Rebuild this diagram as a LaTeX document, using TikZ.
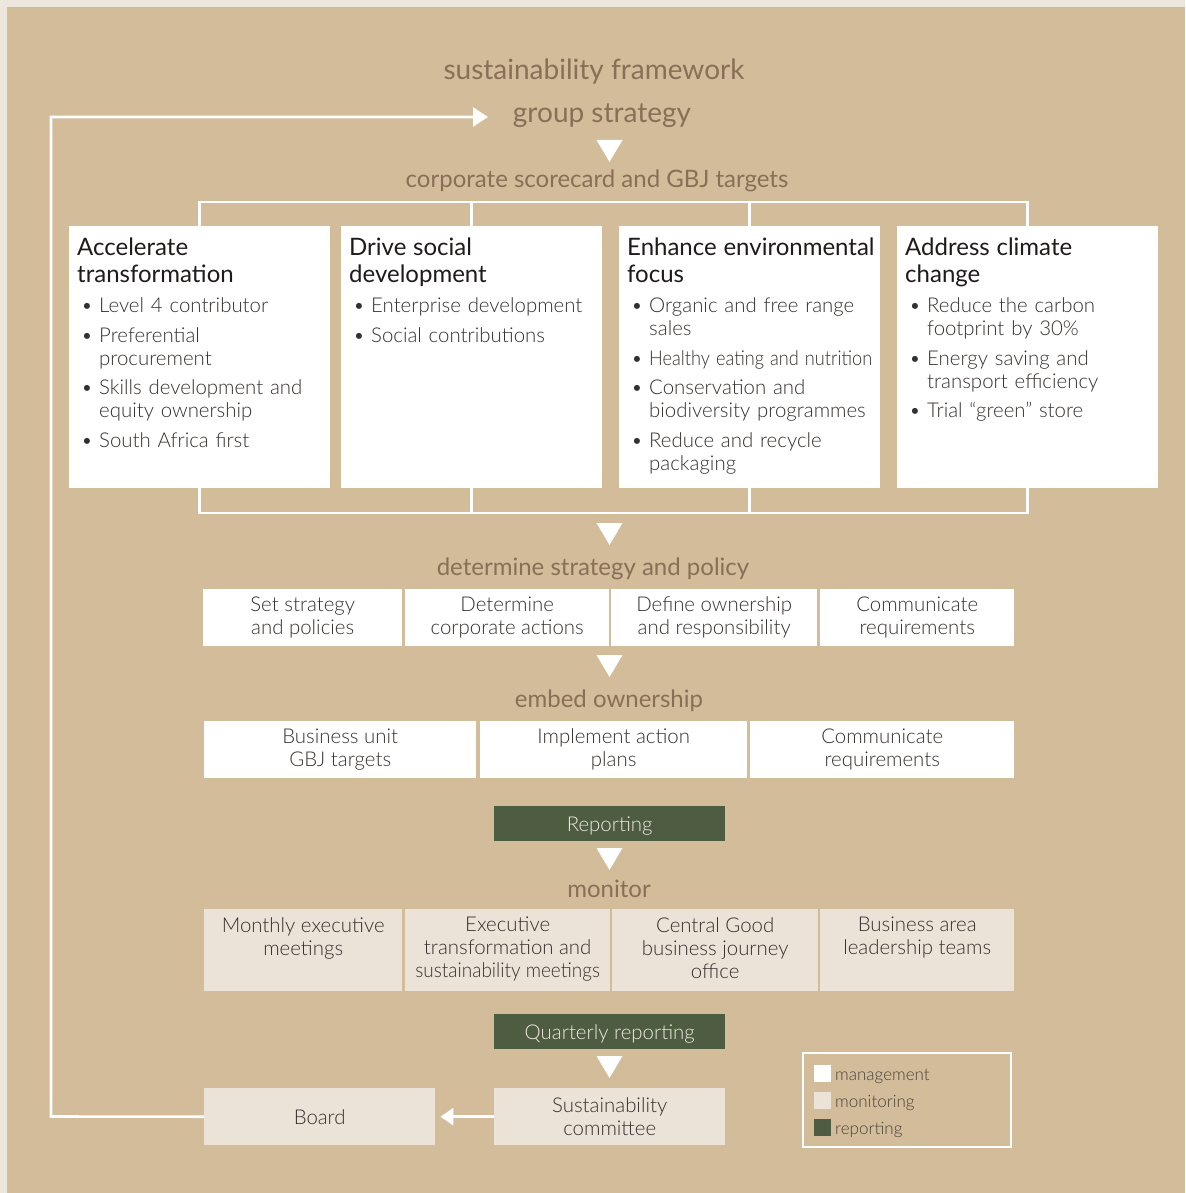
\documentclass[tikz,border=0pt]{standalone}
\usepackage{fontspec}
\setmainfont{Lato}
\IfFontExistsTF{Lato Light}{\newfontfamily\lightfont{Lato Light}}{\newfontfamily\lightfont{Lato}}
\usetikzlibrary{arrows.meta}
\hyphenpenalty=10000
\exhyphenpenalty=10000

\definecolor{paper}{HTML}{EDE6DD}
\definecolor{tan}{HTML}{D2BC9A}
\definecolor{ttl}{HTML}{8A6E57}
\definecolor{rep}{HTML}{4E5C42}
\definecolor{repink}{HTML}{EEEAE0}
\definecolor{mon}{HTML}{EBE3D8}
\definecolor{ink}{HTML}{34302D}
\definecolor{hd}{HTML}{1E1B1A}
\definecolor{legink}{HTML}{4A423D}

% heading and bullet items inside the four objective boxes
\newcommand\headline[1]{{\rmfamily\fontsize{24}{27}\selectfont\color{hd}#1\par}}
\newcommand\bitem[1]{\par\vspace{6.6pt}\hangindent=22pt\hangafter=1\noindent
  \makebox[22pt][l]{\hspace{4pt}\textbullet}#1\par}
% label set a little lower inside its bar
\newcommand\lowered[1]{\raisebox{-2.5pt}[\height][\depth]{#1}}

\tikzset{
  sect/.style={text=ttl, font=\fontsize{24}{26}\selectfont, anchor=base, inner sep=0},
  bigttl/.style={text=ttl, font=\fontsize{28}{30}\selectfont, anchor=base, inner sep=0},
  objbox/.style={fill=white, anchor=north west, inner sep=0, minimum width=261pt, minimum height=262pt},
  objtext/.style={anchor=north west, inner sep=0, text width=250pt, align=left, text=ink,
    font=\lightfont\fontsize{20.4}{23}\selectfont},
  cell/.style={anchor=north west, inner sep=0, align=center, text=ink,
    font=\lightfont\fontsize{20.4}{23}\selectfont},
  mgmt/.style={cell, fill=white, minimum height=57pt},
  moni/.style={cell, fill=mon},
  repo/.style={cell, fill=rep, text=repink, minimum width=231pt, minimum height=35pt},
  wline/.style={white, line width=2.6pt},
  pointer/.style={fill=white},
  legtext/.style={anchor=base west, inner sep=0, text=legink, font=\lightfont\fontsize{17}{19}\selectfont},
}

% downward white pointer centred on (#1,#2)
\newcommand\downmark[2]{\fill[pointer] (#1-13,#2-11) -- (#1+13,#2-11) -- (#1,#2+11) -- cycle;}

\begin{document}
\begin{tikzpicture}[x=1pt,y=-1pt]
\useasboundingbox (0,0) rectangle (1185,1193);
\fill[paper] (0,0) rectangle (1185,1193);
\fill[tan] (7,7) rectangle (1185,1193);

% titles
\node[bigttl] (title) at (594,80) {sustainability framework};
\node[bigttl] (gs) at (602,123) {group strategy};
\downmark{609.5}{151}
\node[sect] (corp) at (597,188) {corporate scorecard and GBJ targets};

% four objectives
\node[objbox] (b1) at (69,226) {};
\node[objbox] (b2) at (341,226) {};
\node[objbox] (b3) at (619,226) {};
\node[objbox] (b4) at (897,226) {};

\node[objtext] (t1) at (77,238) {\headline{Accelerate\newline transformation}
  \bitem{Level 4 contributor}
  \bitem{Preferential\newline procurement}
  \bitem{Skills development and\newline equity ownership}
  \bitem{South Africa first}};
\node[objtext] (t2) at (349,238) {\headline{Drive social\newline development}
  \bitem{Enterprise development}
  \bitem{Social contributions}};
\node[objtext] (t3) at (627,238) {\headline{Enhance environmental\newline focus}
  \bitem{Organic and free range\newline sales}
  \bitem{\scalebox{0.89}[1]{Healthy eating and nutrition}}
  \bitem{Conservation and\newline biodiversity programmes}
  \bitem{Reduce and recycle\newline packaging}};
\node[objtext] (t4) at (905,238) {\headline{Address climate\newline change}
  \bitem{Reduce the carbon\newline footprint by 30\%}
  \bitem{Energy saving and\newline transport efficiency}
  \bitem{Trial “green” store}};

% brackets joining the objectives
\coordinate (topbar) at (0,202);
\coordinate (botbar) at (0,513);
\draw[wline] (b1.north) -- (b1.north |- topbar) -- (b4.north |- topbar) -- (b4.north);
\draw[wline] (b2.north) -- (b2.north |- topbar);
\draw[wline] (b3.north) -- (b3.north |- topbar);
\draw[wline] (b1.south) -- (b1.south |- botbar) -- (b4.south |- botbar) -- (b4.south);
\draw[wline] (b2.south) -- (b2.south |- botbar);
\draw[wline] (b3.south) -- (b3.south |- botbar);

% determine strategy and policy
\downmark{609.5}{534}
\node[sect] (det) at (593,575) {determine strategy and policy};
\node[mgmt, minimum width=199pt] (d1) at (203,589) {Set strategy\\and policies};
\node[mgmt, minimum width=204pt] (d2) at (405,589) {Determine\\corporate actions};
\node[mgmt, minimum width=206pt] (d3) at (611,589) {Define ownership\\and responsibility};
\node[mgmt, minimum width=194pt] (d4) at (820,589) {Communicate\\requirements};

% embed ownership
\downmark{609.5}{666}
\node[sect] (emb) at (609,707) {embed ownership};
\node[mgmt, minimum width=272pt] (e1) at (204,721) {Business unit\\GBJ targets};
\node[mgmt, minimum width=267pt] (e2) at (480,721) {Implement action\\plans};
\node[mgmt, minimum width=264pt] (e3) at (750,721) {Communicate\\requirements};

% reporting and monitoring
\node[repo] (rep) at (494,806) {\lowered{Reporting}};
\downmark{609.5}{859}
\node[sect] (mon) at (609,897) {monitor};
\node[moni, minimum width=198pt, minimum height=82pt] (m1) at (204,909)
  {\parbox[c][66pt][t]{196pt}{\centering Monthly executive\\meetings}};
\node[moni, minimum width=205pt, minimum height=82pt] (m2) at (405,909)
  {\parbox[c][66pt][t]{203pt}{\centering Executive\\transformation and\\\scalebox{0.93}[1]{sustainability meetings}}};
\node[moni, minimum width=206pt, minimum height=82pt] (m3) at (612,909)
  {\parbox[c][66pt][t]{204pt}{\centering Central Good\\business journey\\office}};
\node[moni, minimum width=194pt, minimum height=82pt] (m4) at (820,909)
  {\parbox[c][66pt][t]{192pt}{\centering Business area\\leadership teams}};

\node[repo] (qrep) at (494,1014) {\lowered{Quarterly reporting}};
\downmark{609.5}{1067}

% committee, board and feedback loop
\node[moni, minimum width=231pt, minimum height=57pt] (com) at (494,1088) {Sustainability\\committee};
\node[moni, minimum width=231pt, minimum height=57pt] (board) at (204,1088) {Board};
\draw[wline, -{Triangle[length=13pt, width=17pt]}, shorten >=5pt] (com.west) -- (board.east);

\coordinate (loopbot) at (51,1116.5);
\coordinate (looptop) at (51,117);
\coordinate (gsin) at (488,117);
\draw[wline, -{Triangle[length=15pt, width=19pt]}] (board.west) -- (loopbot) -- (looptop) -- (gsin);

% legend
\draw[white, line width=2.6pt] (803,1053) rectangle (1011,1147);
\fill[white] (814,1065) rectangle (831,1082);
\fill[mon] (814,1092) rectangle (831,1109);
\fill[rep] (814,1119) rectangle (831,1136);
\node[legtext] (l1) at (835,1080) {management};
\node[legtext] (l2) at (835,1107) {monitoring};
\node[legtext] (l3) at (835,1134) {reporting};
\end{tikzpicture}
\end{document}
